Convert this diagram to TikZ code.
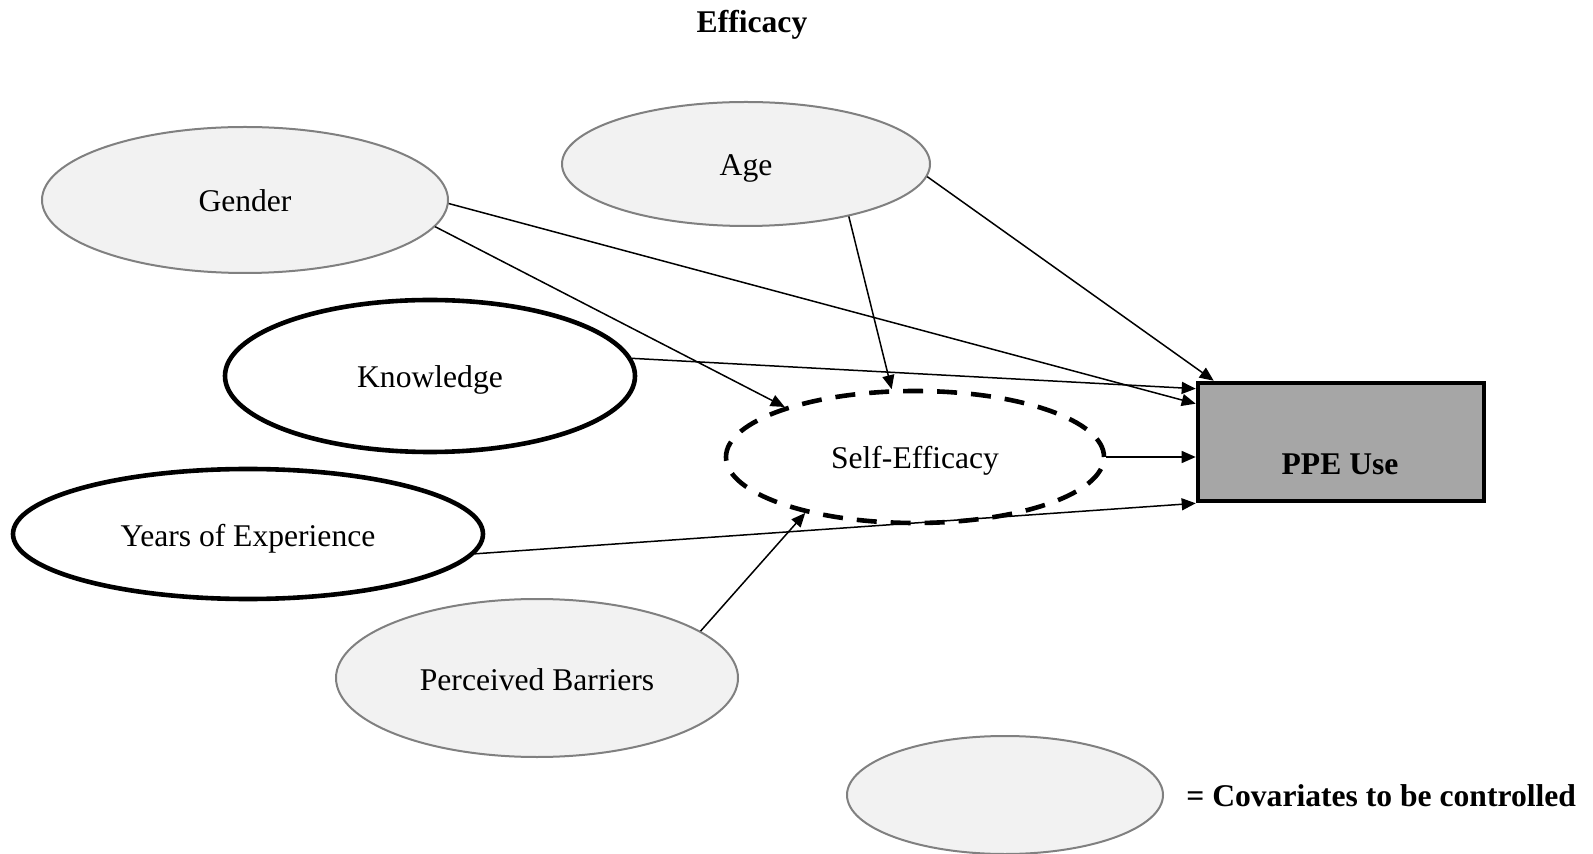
\documentclass[tikz,border=0pt]{standalone}
\usepackage{fontspec}
\setmainfont{Liberation Serif}
\usetikzlibrary{shapes.geometric,arrows.meta}
\definecolor{covfill}{HTML}{F2F2F2}
\definecolor{covline}{HTML}{808080}
\definecolor{ppefill}{HTML}{A6A6A6}
\tikzset{
  varbase/.style={ellipse, inner sep=0pt, text height=1.2em, text depth=0pt},
  covar/.style={varbase, draw=covline, line width=1pt, fill=covfill},
  mainvar/.style={varbase, draw=black, line width=2.3pt, fill=white},
  mediator/.style={varbase, draw=black, line width=2.3pt, dash pattern=on 10pt off 7pt, fill=white},
  outcome/.style={rectangle, draw=black, line width=2.3pt, fill=ppefill, inner sep=0pt},
  boldtext/.style={font=\fontsize{15.8pt}{19pt}\selectfont\bfseries},
  link/.style={line width=0.75pt, -{Triangle[length=7pt,width=6pt]}},
}
\begin{document}
\begin{tikzpicture}[x=0.5pt, y=-0.5pt, font=\fontsize{15.8pt}{19pt}\selectfont]
\useasboundingbox (0,0) rectangle (1593,854);

\node[boldtext] (title) at (752,25) {Efficacy};

% variables
\node[covar, minimum width=203pt, minimum height=73pt] (gender) at (245,200) {Gender};
\node[covar, minimum width=184pt, minimum height=62pt] (age) at (746,164) {Age};
\node[mainvar, minimum width=205pt, minimum height=76pt] (know) at (430,376) {Knowledge};
\node[mainvar, minimum width=235pt, minimum height=65pt] (years) at (248,534) {Years of Experience};
\node[covar, minimum width=201pt, minimum height=79pt] (barriers) at (537,678) {Perceived Barriers};
\node[mediator, minimum width=189pt, minimum height=66pt] (se) at (915,457) {Self-Efficacy};
\node[outcome, minimum width=143pt, minimum height=59pt] (ppe) at (1341,442) {};
\node[boldtext] (ppelabel) at (1340,464) {PPE Use};

% legend
\node[covar, minimum width=158pt, minimum height=59pt] (legend) at (1005,795) {};
\node[boldtext, anchor=west, inner sep=0pt] (legendtext) at (1186,796) {= Covariates to be controlled};

% paths
\draw[link] (gender.-1.7) -- ([yshift=-11.5pt]ppe.north west);
\draw[link] (gender.-8.4) -- (se.159.9);
\draw[link] (age.-27) -- (se.109);
\draw[link] (age.-4) -- ([xshift=9pt]ppe.north west);
\draw[link] (know.5.5) -- ([yshift=-4pt]ppe.north west);
\draw[link] (se.east) -- (se.east -| ppe.west);
\draw[link] (years.-5) -- (ppe.south west);
\draw[link] (barriers.16.5) -- (se.207.2);
\end{tikzpicture}
\end{document}
